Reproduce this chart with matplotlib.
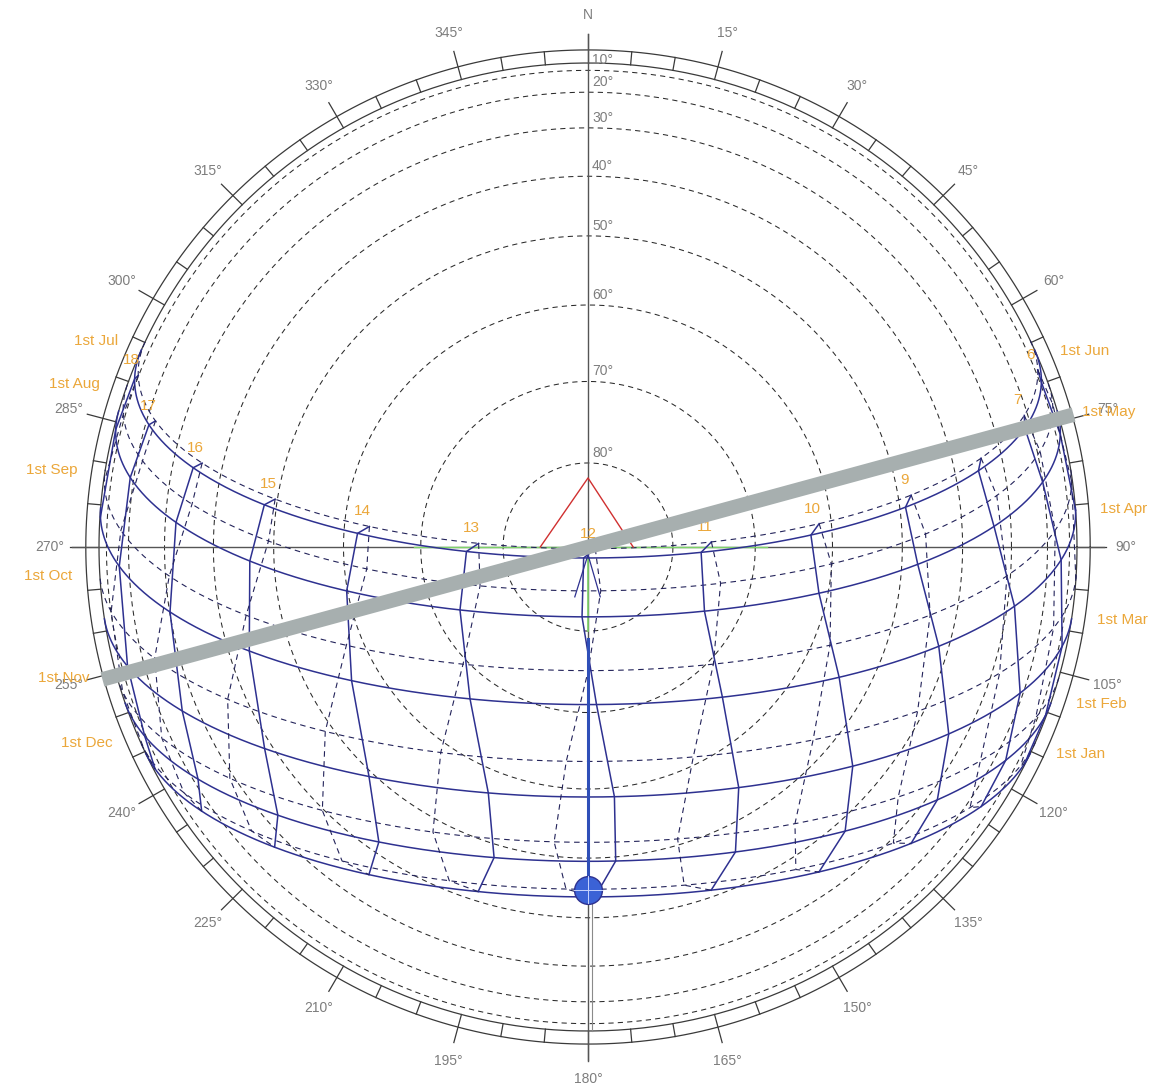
import numpy as np
import matplotlib
matplotlib.use("Agg")
import matplotlib.pyplot as plt

plt.rcParams['font.family'] = ['Liberation Sans', 'DejaVu Sans']

# site / sun-path data
latitude = 23.3
clock_offset_min = 0.0

months = ['Jan', 'Feb', 'Mar', 'Apr', 'May', 'Jun',
          'Jul', 'Aug', 'Sep', 'Oct', 'Nov', 'Dec']
# declination and equation of time on the 1st of each month
declination = [-23.0, -17.2, -7.8, 4.3, 15.0, 22.0,
               23.1, 18.1, 8.5, -3.0, -14.3, -21.7]
eot_min = [-3.5, -13.6, -12.5, -4.0, 2.9, 2.2,
           -3.7, -6.3, -0.1, 10.2, 16.4, 11.1]
hours = [6, 7, 8, 9, 10, 11, 12, 13, 14, 15, 16, 17, 18]

alt_rings = [10, 20, 30, 40, 50, 60, 70, 80]
compass_labels = ['N', '15°', '30°', '45°', '60°', '75°', '90°', '105°', '120°',
                  '135°', '150°', '165°', '180°', '195°', '210°', '225°', '240°',
                  '255°', '270°', '285°', '300°', '315°', '330°', '345°']

# overlay objects (azimuth, altitude)
bar_azimuth = 74.6
bar_reach = 1.03
triangle_az = [270, 0, 90]
triangle_alt = [84.4, 81.8, 84.7]
green_cross_az = [270, 90]
green_cross_alt = [69.2, 68.5]
green_stem_alt = 80.0
sun_marker_az = 180.0
sun_marker_alt = 44.9

NAVY = '#2e3190'
ORANGE = '#eba73a'
GREY_TXT = '#7d7d7d'
RING = '#3a3a3a'

SX, SY = 489.0, 484.0   # pixels per unit radius (x, y)
CX, CY = 588.0, 547.0
W, H = 1157, 1088


def proj(az, alt):
    az = np.radians(np.asarray(az, float))
    r = np.cos(np.radians(np.asarray(alt, float)))
    return r * np.sin(az), r * np.cos(az)


def sun_vec(dec, ha):
    phi = np.radians(latitude)
    d = np.radians(dec)
    h = np.radians(ha)
    east = -np.cos(d) * np.sin(h)
    north = np.cos(phi) * np.sin(d) - np.sin(phi) * np.cos(d) * np.cos(h)
    up = np.sin(phi) * np.sin(d) + np.cos(phi) * np.cos(d) * np.cos(h)
    return east, north, up


fig = plt.figure(figsize=(W / 100, H / 100), dpi=100)
ax = fig.add_axes([0, 0, 1, 1])
ax.set_xlim(-CX / SX, (W - CX) / SX)
ax.set_ylim(-(H - CY) / SY, CY / SY)
ax.axis('off')

t = np.linspace(0, 2 * np.pi, 721)

# horizon and outer scale ring
ax.plot(np.cos(t), np.sin(t), color=RING, lw=0.9, zorder=2)
ax.plot(1.027 * np.cos(t), 1.027 * np.sin(t), color=RING, lw=0.9, zorder=2)

# altitude circles
for a in alt_rings:
    r = np.cos(np.radians(a))
    ax.plot(r * np.cos(t), r * np.sin(t), color='#2a2a2a', lw=0.75,
            dashes=[5, 4], zorder=2)
    ax.annotate('%d°' % a, (0, r), xytext=(4, 10), textcoords='offset pixels',
                color=GREY_TXT, fontsize=10, ha='left', va='center', zorder=3)

# compass ticks
for az in range(0, 360, 5):
    s, c = np.sin(np.radians(az)), np.cos(np.radians(az))
    if az % 15 == 0:
        ax.plot([s, 1.06 * s], [c, 1.06 * c], color=RING, lw=0.9, zorder=2)
    else:
        ax.plot([s, 1.027 * s], [c, 1.027 * c], color=RING, lw=0.9, zorder=2)
for k, lab in enumerate(compass_labels):
    az = np.radians(15 * k)
    ax.text(1.10 * np.sin(az), 1.10 * np.cos(az), lab, color=GREY_TXT,
            fontsize=10, ha='center', va='center', zorder=3)

# main cross
ax.plot([0, 0], [-1.063, 1.06], color='#555555', lw=1.0, zorder=2)
ax.plot([-1.055, 1.055], [0, 0], color='#555555', lw=1.0, zorder=2)

# date lines
ha_grid = np.linspace(-180, 180, 1441)
for i, m in enumerate(months):
    e, n, u = sun_vec(declination[i], ha_grid)
    e = np.where(u >= 0, e, np.nan)
    n = np.where(u >= 0, n, np.nan)
    if i < 6:
        ax.plot(e, n, color=NAVY, lw=1.1, zorder=4)
    else:
        ax.plot(e, n, color='#23235a', lw=0.8, dashes=[5, 4], zorder=4)

# hour lines (analemma polylines through the monthly points)
dec_arr = np.array(declination)
eot_arr = np.array(eot_min)
for hr in hours:
    ha = 15 * (hr + (eot_arr + clock_offset_min) / 60.0 - 12)
    e, n, u = sun_vec(dec_arr, ha)
    e = np.where(u >= 0, e, np.nan)
    n = np.where(u >= 0, n, np.nan)
    solid = list(range(0, 7))
    dashed = list(range(6, 12)) + [0]
    ax.plot(e[solid], n[solid], color=NAVY, lw=1.1, zorder=4)
    ax.plot(e[dashed], n[dashed], color='#23235a', lw=0.8, dashes=[5, 4], zorder=4)
    top = int(np.argmax(dec_arr))
    ax.annotate(str(hr), (e[top], n[top]), xytext=(-7, 15),
                textcoords='offset pixels', color=ORANGE, fontsize=11,
                ha='center', va='center', zorder=5)

# month labels at sunrise (Jan-Jun) / sunset (Jul-Dec)
for i, m in enumerate(months):
    e, n, u = sun_vec(declination[i], np.linspace(-180, 180, 14401))
    above = np.where(u >= 0)[0]
    k = above[0] if i < 6 else above[-1]
    ang = np.arctan2(e[k], n[k])
    x, y = np.sin(ang), np.cos(ang)
    if i < 6:
        ax.annotate('1st ' + m, (x, y), xytext=(25, -1), textcoords='offset pixels',
                    color=ORANGE, fontsize=11, ha='left', va='center', zorder=7)
    else:
        ax.annotate('1st ' + m, (x, y), xytext=(-28, -1), textcoords='offset pixels',
                    color=ORANGE, fontsize=11, ha='right', va='center', zorder=7)

# object outline and markers
tx, ty = proj(triangle_az, triangle_alt)
ax.plot(tx, ty, color='#d03030', lw=1.0, zorder=5)
gx, gy = proj(green_cross_az, green_cross_alt)
ax.plot(gx, gy, color='#7ed36a', lw=1.0, zorder=3)
sx, sy = proj([180, 180], [90, green_stem_alt])
ax.plot(sx, sy, color='#7ed36a', lw=1.2, zorder=3)
mx, my = proj(sun_marker_az, sun_marker_alt)
ax.plot([0, -0.027], [-0.016, -0.103], color=NAVY, lw=0.9, zorder=5)
ax.plot([0, 0.025], [-0.016, -0.103], color=NAVY, lw=0.9, zorder=5)
ax.plot([0, 0], [-0.19, my], color='#2f4fb8', lw=2.2, zorder=5)
ax.plot([0.008, 0.008], [my, -1.0], color='#8a8a8a', lw=0.8, zorder=5)
ax.plot(mx, my, 'o', ms=20, mfc='#3b62d6', mec=NAVY, mew=1.0, zorder=6)
ax.plot([mx - 0.028, mx + 0.028], [my, my], color='#c8d4ff', lw=0.7, zorder=6)
ax.plot([mx, mx], [my - 0.028, my + 0.028], color='#c8d4ff', lw=0.7, zorder=6)

# thick grey bar
bx, by = proj([bar_azimuth + 180, bar_azimuth], [0, 0])
ax.plot(bar_reach * bx, bar_reach * by, color='#a7afaf', lw=10.5,
        solid_capstyle='butt', zorder=6)

fig.savefig('out.png', dpi=100, facecolor='white')
